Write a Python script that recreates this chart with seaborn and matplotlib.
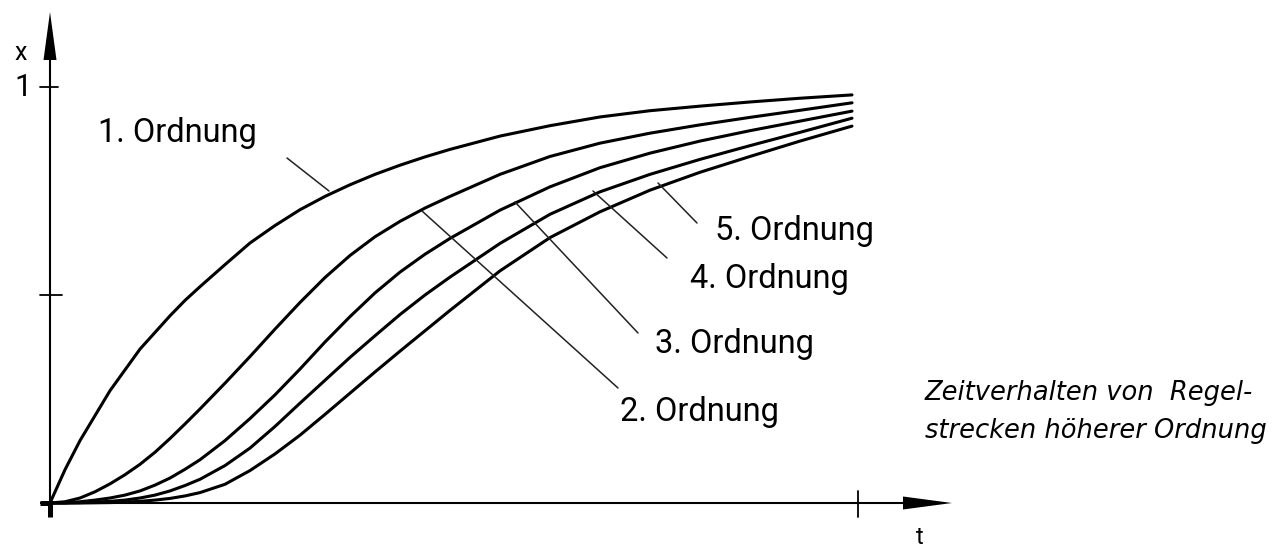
import numpy as np
import pandas as pd
import matplotlib
matplotlib.use("Agg")
import matplotlib.pyplot as plt
from matplotlib.patches import Polygon
import seaborn as sns

# ---- data ----
t = [0, 0.15, 0.3, 0.45, 0.6, 0.75, 0.9, 1.05, 1.2, 1.35, 1.5, 1.75, 2.0, 2.25, 2.5,
     2.75, 3.0, 3.25, 3.5, 3.75, 4.0, 4.5, 5.0, 5.5, 6.0, 6.5, 7.0, 7.5, 8.02]
x1 = [0, 0.08, 0.15, 0.21, 0.27, 0.32, 0.37, 0.41, 0.45, 0.487, 0.52, 0.573, 0.625, 0.667, 0.705,
      0.737, 0.765, 0.79, 0.812, 0.832, 0.85, 0.882, 0.907, 0.928, 0.943, 0.954, 0.964, 0.973, 0.981]
x2 = [0, 0.003, 0.012, 0.027, 0.046, 0.068, 0.093, 0.122, 0.155, 0.19, 0.226, 0.288, 0.352, 0.418, 0.482,
      0.542, 0.595, 0.64, 0.677, 0.709, 0.737, 0.79, 0.833, 0.865, 0.889, 0.909, 0.927, 0.944, 0.962]
x3 = [0, 0.0005, 0.003, 0.007, 0.012, 0.019, 0.029, 0.043, 0.06, 0.081, 0.104, 0.15, 0.203, 0.26, 0.322,
      0.387, 0.448, 0.505, 0.555, 0.598, 0.636, 0.704, 0.76, 0.806, 0.841, 0.87, 0.895, 0.918, 0.942]
x4 = [0, 0.0, 0.001, 0.002, 0.004, 0.007, 0.012, 0.019, 0.029, 0.042, 0.057, 0.09, 0.132, 0.184, 0.24,
      0.295, 0.35, 0.402, 0.453, 0.5, 0.543, 0.624, 0.694, 0.748, 0.79, 0.826, 0.859, 0.891, 0.925]
x5 = [0, 0.0, 0.0, 0.0005, 0.001, 0.002, 0.004, 0.007, 0.011, 0.017, 0.025, 0.045, 0.078, 0.118, 0.163,
      0.213, 0.264, 0.315, 0.365, 0.414, 0.463, 0.558, 0.638, 0.70, 0.752, 0.795, 0.833, 0.87, 0.906]
orders = ["1. Ordnung", "2. Ordnung", "3. Ordnung", "4. Ordnung", "5. Ordnung"]
t_end = 8.08
caption = ["Zeitverhalten von  Regel-", "strecken höherer Ordnung"]

series = [x1, x2, x3, x4, x5]
df = pd.concat([pd.DataFrame({"t": t, "x": s, "order": o}) for s, o in zip(series, orders)],
               ignore_index=True)

# pixel -> data helpers (for annotation placement)
def X(px):
    return (px - 50) / 100.0

def Y(py):
    return (503 - py) / 416.0

sns.set_theme(style="white")
plt.rcParams["font.family"] = ["Roboto", "DejaVu Sans"]

fig = plt.figure(figsize=(12.84, 5.49), dpi=100)
ax = fig.add_axes([0, 0, 1, 1])

sns.lineplot(data=df, x="t", y="x", hue="order", hue_order=orders,
             palette=["black"] * 5, linewidth=2.2, legend=False,
             estimator=None, sort=False, ax=ax)
for ln in ax.get_lines():
    ln.set_solid_joinstyle("round")
    ln.set_solid_capstyle("round")

ax.set_xlim(X(0), X(1284))
ax.set_ylim(Y(549), Y(0))
ax.axis("off")

k = "black"
# y axis
ax.plot([0, 0], [Y(517), Y(60)], color=k, lw=1.5, solid_capstyle="butt")
ax.add_patch(Polygon([(X(43.5), Y(60)), (X(56.5), Y(60)), (X(50), Y(12))], closed=True, color=k, lw=0))
# x axis
ax.plot([X(40), X(905)], [0, 0], color=k, lw=1.5, solid_capstyle="butt")
ax.add_patch(Polygon([(X(903), Y(496.5)), (X(903), Y(509.5)), (X(952), Y(503))], closed=True, color=k, lw=0))
# thick origin marks
ax.plot([X(40), X(50)], [0, 0], color=k, lw=3.6, solid_capstyle="butt")
ax.plot([0, 0], [0, Y(517)], color=k, lw=3.6, solid_capstyle="butt")
# ticks
ax.plot([X(40), X(58)], [1, 1], color=k, lw=1.3)
ax.plot([X(40), X(62)], [0.5, 0.5], color=k, lw=1.3)
ax.plot([t_end, t_end], [Y(491), Y(517)], color=k, lw=1.3)

# axis labels
ax.text(X(21), Y(53), "x", ha="center", va="center", fontsize=18, color=k)
ax.text(X(23), Y(87), "1", ha="center", va="center", fontsize=22, color=k)
ax.text(X(920), Y(526), "t", ha="center", va="top", fontsize=17, color=k)

# curve labels and leader lines
label_pos = [(98, 142), (620, 421), (655, 353), (690, 288), (715, 240)]
leaders = [((287, 158), (329, 191)),
           ((422, 211), (618, 388)),
           ((515, 202), (638, 333)),
           ((593, 191), (667, 258)),
           ((658, 183), (697, 223))]
for o, (lx, ly), ((ax0, ay0), (ax1, ay1)) in zip(orders, label_pos, leaders):
    ax.text(X(lx), Y(ly), o, ha="left", va="baseline", fontsize=23.5, color=k)
    ax.plot([X(ax0), X(ax1)], [Y(ay0), Y(ay1)], color="#222222", lw=1.1)

# caption
ax.text(X(925), Y(400), caption[0], ha="left", va="baseline", fontsize=18.5,
        fontstyle="italic", family=["DejaVu Sans"], color=k)
ax.text(X(925), Y(438), caption[1], ha="left", va="baseline", fontsize=18.5,
        fontstyle="italic", family=["DejaVu Sans"], color=k)

fig.savefig("out.png", dpi=100, facecolor="white")
